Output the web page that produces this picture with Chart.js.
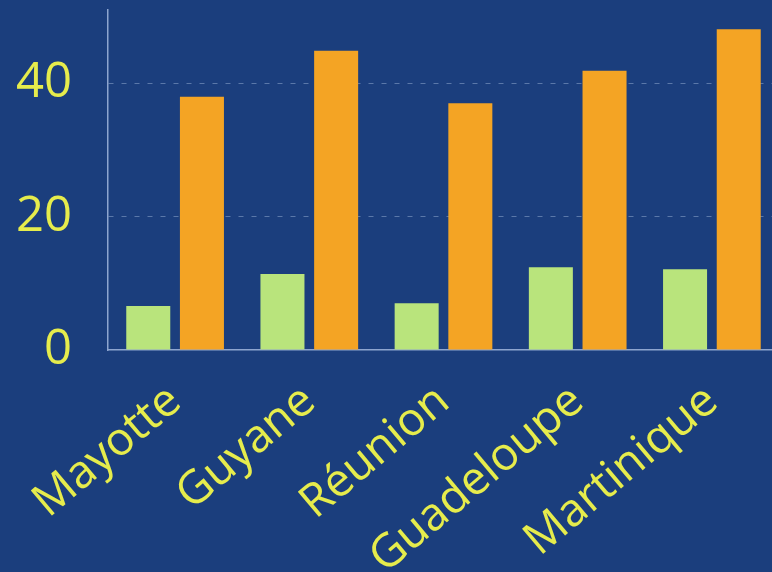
<!DOCTYPE html>
<html>
<head>
<meta charset="utf-8">
<script src="https://cdn.jsdelivr.net/npm/chart.js@4"></script>
<style>
  html, body { margin: 0; padding: 0; background: #1b3e7d; overflow: hidden; }
  .chartContainer { width: 779px; height: 572px; }
</style>
</head>
<body>
<div class="chartContainer">
  <canvas id="chart"></canvas>
</div>
<script>
const categories = ["Mayotte", "Guyane", "Réunion", "Guadeloupe", "Martinique"]
const greenValues = [6.6, 11.4, 7.0, 12.4, 12.1]
const orangeValues = [38.0, 44.9, 37.0, 41.9, 48.1]
const yTicks = [0, 20, 40]

const textColor = "#e6ec4c"
const fontFamily = "'Open Sans', 'DejaVu Sans', sans-serif"

const ctx = document.getElementById("chart").getContext("2d")

new Chart(ctx, {
  type: "bar",
  data: {
    labels: categories,
    datasets: [
      {
        label: "A",
        data: greenValues,
        backgroundColor: "#b9e47c",
        categoryPercentage: 0.8,
        barPercentage: 0.82,
      },
      {
        label: "B",
        data: orangeValues,
        backgroundColor: "#f4a424",
        categoryPercentage: 0.8,
        barPercentage: 0.82,
      },
    ],
  },
  options: {
    responsive: true,
    maintainAspectRatio: false,
    animation: false,
    layout: { padding: { top: 10, right: 0, left: 0, bottom: 0 } },
    plugins: {
      legend: { display: false },
      title: { display: false },
      tooltip: { enabled: false },
    },
    scales: {
      x: {
        grid: { display: false, drawTicks: false },
        border: { display: true, color: "#8ea5cf", width: 1.5 },
        ticks: {
          color: textColor,
          font: { family: fontFamily, size: 46 },
          minRotation: 40,
          maxRotation: 40,
          padding: 24,
          autoSkip: false,
        },
        afterFit: (scale) => {
          scale.height = 222
          scale.paddingLeft = 0
          scale.paddingRight = 0
        },
      },
      y: {
        min: 0,
        max: 51,
        afterBuildTicks: (scale) => {
          scale.ticks = yTicks.map((v) => ({ value: v }))
        },
        grid: {
          drawTicks: false,
          color: (c) => (c.tick && c.tick.value === 0 ? "rgba(0,0,0,0)" : "rgba(170,190,225,0.45)"),
          lineWidth: 1,
        },
        border: { display: true, color: "#8ea5cf", width: 1.5, dash: [5, 8] },
        ticks: {
          color: textColor,
          font: { family: fontFamily, size: 49 },
          padding: 36,
        },
        afterFit: (scale) => {
          scale.width = 108
          scale.paddingTop = 0
          scale.paddingBottom = 0
        },
      },
    },
  },
})
</script>
</body>
</html>
